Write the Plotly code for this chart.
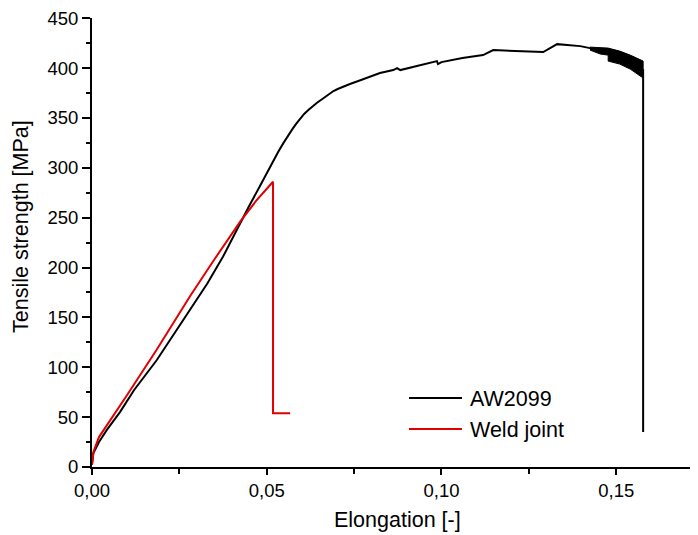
import plotly.graph_objects as go

# AW2099 curve (elongation [-], tensile strength [MPa])
aw_x = [0, 0.0004, 0.002, 0.0042, 0.008, 0.012, 0.0185, 0.023, 0.028, 0.033, 0.0375,
        0.0414, 0.045, 0.0481, 0.05, 0.0518, 0.0533, 0.0548, 0.056, 0.0572, 0.0584,
        0.0595, 0.0607, 0.0619, 0.0631, 0.0643, 0.0655, 0.0667, 0.0679, 0.0691, 0.0703,
        0.0715, 0.0738, 0.0762, 0.0786, 0.0824, 0.0862, 0.0873, 0.0882, 0.093,
        0.0987, 0.099, 0.1, 0.106, 0.1119, 0.1148, 0.1205, 0.1291, 0.1331, 0.1397,
        0.1425, 0.1477, 0.151, 0.154, 0.1577, 0.1577]
aw_y = [3, 14, 25, 37, 55, 77, 107, 131, 158, 184, 211,
        238, 262, 282, 295, 306, 316, 325, 332, 338, 344,
        349, 354, 358, 362, 365, 368, 371, 374, 377, 379,
        381, 384, 387, 390, 395, 398, 400, 398, 402,
        407, 404, 406, 410, 413, 418, 417, 416, 424, 422,
        420, 414, 410, 404, 398, 35]

# AW2099 oscillation band near fracture (upper / lower envelope)
band_x_upper = [0.1425, 0.1477, 0.151, 0.154, 0.1577]
band_y_upper = [421, 420, 417, 413, 407]
band_x_lower = [0.1577, 0.154, 0.151, 0.1477, 0.1477, 0.1455, 0.1425]
band_y_lower = [390, 399, 404, 407, 413, 414, 418]

# Weld joint curve
wj_x = [0, 0.0004, 0.002, 0.00515, 0.01, 0.0185, 0.028, 0.035, 0.0409, 0.0424,
        0.047, 0.0518, 0.0518, 0.0567]
wj_y = [2, 15, 30, 47, 72, 117.5, 171, 208, 238, 246, 267, 286, 54, 54]

x_ticks = [0, 0.05, 0.10, 0.15]
y_ticks = [0, 50, 100, 150, 200, 250, 300, 350, 400, 450]

names = ["AW2099", "Weld joint"]
colors = ["#000000", "#e00000"]

FONT = "Arial, Liberation Sans, sans-serif"

fig = go.Figure()
fig.add_trace(go.Scatter(x=band_x_upper + band_x_lower, y=band_y_upper + band_y_lower,
                         fill="toself", fillcolor=colors[0], mode="lines",
                         line=dict(color=colors[0], width=1), showlegend=False,
                         hoverinfo="skip"))
fig.add_trace(go.Scatter(x=aw_x, y=aw_y, mode="lines", name=names[0],
                         line=dict(color=colors[0], width=2), showlegend=False))
fig.add_trace(go.Scatter(x=wj_x, y=wj_y, mode="lines", name=names[1],
                         line=dict(color=colors[1], width=2), showlegend=False))

# page body offsets the figure by 8px; target image coordinates below
OFF = 8
L, T, B, W, H = 92, 18, 68, 698, 535
pw, ph = W - L, H - T - B


def px_x(p):
    return (p - L) / pw


def px_y(p):
    return (H - B - p) / ph


# manual legend
for i, (nm, c) in enumerate(zip(names, colors)):
    yy = [398, 429][i]
    fig.add_shape(type="line", xref="paper", yref="paper",
                  x0=px_x(409), x1=px_x(462), y0=px_y(yy), y1=px_y(yy),
                  line=dict(color=c, width=2))
    fig.add_annotation(xref="paper", yref="paper", x=px_x(468), y=px_y(yy + 1),
                       text=nm, showarrow=False, xanchor="left", yanchor="middle",
                       font=dict(family=FONT, size=21.5, color="black"))

# axis titles
fig.add_annotation(xref="paper", yref="paper", x=px_x(397), y=px_y(520),
                   text="Elongation [-]", showarrow=False, xanchor="center",
                   yanchor="middle", font=dict(family=FONT, size=21.5, color="black"))
fig.add_annotation(xref="paper", yref="paper", x=px_x(21), y=px_y(227),
                   text="Tensile strength [MPa]", showarrow=False, textangle=-90,
                   xanchor="center", yanchor="middle",
                   font=dict(family=FONT, size=21.5, color="black"))

fig.update_layout(
    width=W - OFF, height=H - OFF,
    margin=dict(l=L - OFF, r=0, t=T - OFF, b=B, autoexpand=False),
    paper_bgcolor="white", plot_bgcolor="white",
    separators=",.",
    font=dict(family=FONT, size=18.5, color="black"),
    showlegend=False,
    xaxis=dict(range=[0, 0.1734], tickvals=x_ticks, tickformat=".2f",
               showline=True, linecolor="black", linewidth=2, mirror=False,
               ticks="outside", ticklen=6, tickwidth=2, tickcolor="black",
               showgrid=False, zeroline=False, ticklabeloverflow="allow",
               minor=dict(dtick=0.025, ticks="outside", ticklen=5, tickwidth=2,
                          tickcolor="black", showgrid=False)),
    yaxis=dict(range=[0, 450.2], tickvals=y_ticks,
               showline=True, linecolor="black", linewidth=2, mirror=False,
               ticks="outside", ticklen=8, tickwidth=2, tickcolor="black",
               showgrid=False, zeroline=False, ticklabeloverflow="allow",
               minor=dict(dtick=25, ticks="outside", ticklen=4, tickwidth=2,
                          tickcolor="black", showgrid=False)),
)

fig.write_html("out.html")
